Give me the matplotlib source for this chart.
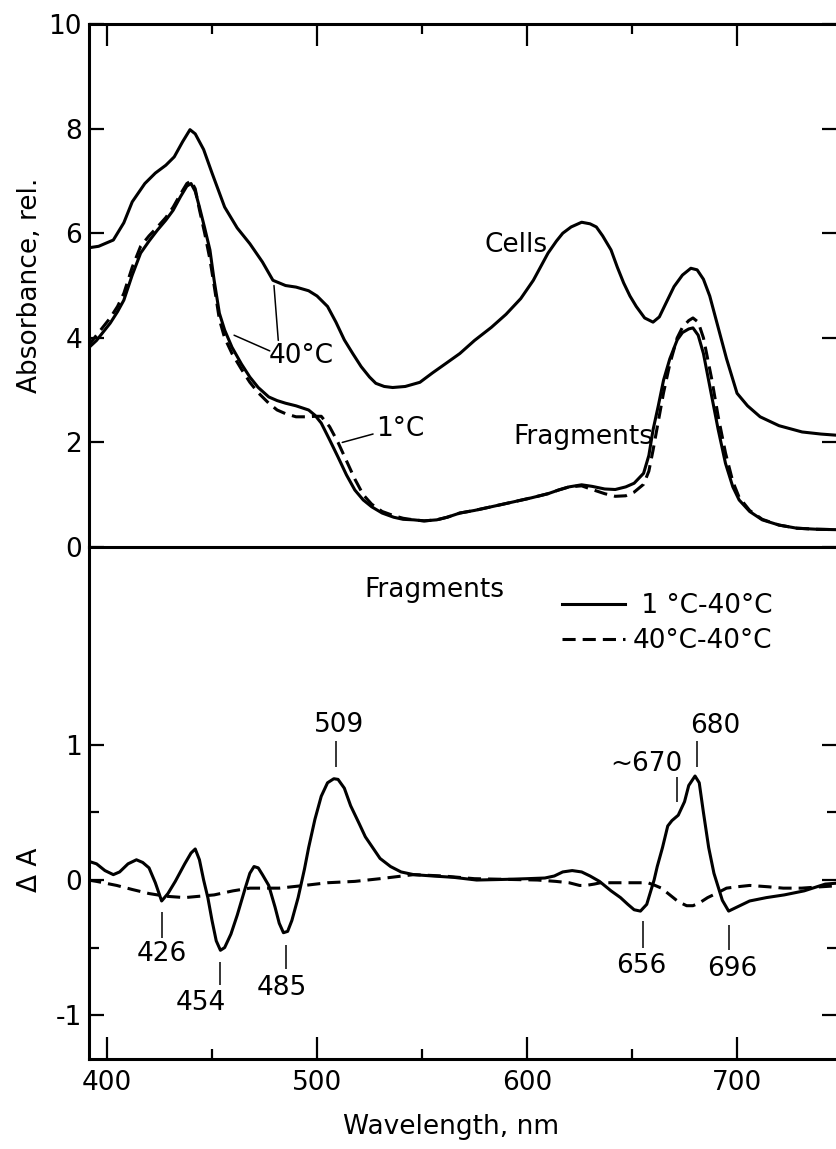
import matplotlib
matplotlib.use("Agg")
import matplotlib.pyplot as plt
from matplotlib.ticker import MultipleLocator, FixedLocator

plt.rcParams["font.family"] = ["DejaVu Sans"]
plt.rcParams["font.size"] = 19
plt.rcParams["axes.unicode_minus"] = False

# ---- top panel: absorbance spectra ----
cells_wl = [391, 396, 403, 408, 412, 418, 423, 428, 432, 436, 439.5, 442, 446, 450, 456, 462,
            468, 474, 479, 485, 490, 496, 500, 505, 509, 513, 517, 521, 525, 528, 532, 536,
            542, 549, 555, 561, 568, 575, 583, 590, 597, 603, 610, 614, 617, 621, 626, 630,
            633, 636, 640, 643, 646, 649, 652, 656, 660, 663, 666, 670, 674, 678, 681, 684,
            687, 691, 695, 700, 705, 711, 720, 731, 740, 750]
cells_abs = [5.72, 5.75, 5.87, 6.2, 6.6, 6.95, 7.15, 7.3, 7.46, 7.75, 7.98, 7.9, 7.6, 7.15, 6.5, 6.1,
             5.8, 5.45, 5.1, 5.0, 4.97, 4.9, 4.8, 4.6, 4.3, 3.96, 3.7, 3.45, 3.25, 3.13, 3.07, 3.05,
             3.07, 3.15, 3.33, 3.5, 3.7, 3.95, 4.2, 4.45, 4.75, 5.1, 5.62, 5.85, 6.0, 6.12, 6.21, 6.18,
             6.12, 5.95, 5.68, 5.35, 5.05, 4.8, 4.6, 4.38, 4.3, 4.4, 4.65, 4.98, 5.2, 5.33, 5.3, 5.12,
             4.8, 4.2, 3.6, 2.94, 2.7, 2.49, 2.32, 2.2, 2.16, 2.13]

frag_wl = [391, 395, 401.5, 405, 408, 412, 416, 420, 424, 428, 431.5, 435, 438, 440, 442, 444,
           446.5, 449, 451, 453.5, 456, 459.5, 464, 468, 472, 477, 481, 485, 490, 496, 499, 502,
           506, 510, 514, 518, 522, 526, 531, 536.5, 541, 546, 551, 557, 562, 568, 575, 583,
           592, 602, 610, 615, 620, 626, 631, 637, 642, 647, 651, 655.5, 658, 660, 662.5, 665,
           668, 671.5, 674, 677, 679, 681.5, 684, 688, 691, 694.5, 698, 701, 706, 712, 720,
           728.5, 738, 750]
frag_1c = [3.8, 3.95, 4.28, 4.5, 4.72, 5.2, 5.62, 5.85, 6.06, 6.25, 6.44, 6.7, 6.9, 6.95, 6.8, 6.5,
           6.1, 5.68, 5.1, 4.47, 4.15, 3.82, 3.5, 3.25, 3.05, 2.87, 2.8, 2.75, 2.7, 2.62, 2.52, 2.37,
           2.05, 1.72, 1.38, 1.09, 0.9, 0.77, 0.65, 0.57, 0.53, 0.52, 0.5, 0.52, 0.57, 0.65, 0.7, 0.77,
           0.85, 0.94, 1.02, 1.09, 1.15, 1.19, 1.16, 1.11, 1.1, 1.15, 1.22, 1.41, 1.75, 2.24, 2.7, 3.19,
           3.6, 3.96, 4.1, 4.17, 4.19, 4.05, 3.7, 2.87, 2.25, 1.6, 1.15, 0.9, 0.68, 0.52, 0.42,
           0.36, 0.34, 0.33]
frag_40c = [3.85, 4.05, 4.38, 4.6, 4.85, 5.35, 5.75, 5.95, 6.12, 6.3, 6.5, 6.75, 6.95, 7.0, 6.85, 6.45,
            6.0, 5.5, 5.0, 4.35, 4.0, 3.7, 3.4, 3.15, 2.95, 2.75, 2.62, 2.55, 2.49, 2.49, 2.5, 2.5,
            2.3, 2.0, 1.65, 1.3, 1.0, 0.82, 0.68, 0.6, 0.55, 0.52, 0.5, 0.52, 0.57, 0.65, 0.7, 0.77,
            0.85, 0.94, 1.02, 1.09, 1.15, 1.17, 1.1, 1.02, 0.97, 0.98, 1.05, 1.2, 1.45, 1.85, 2.4, 2.95,
            3.5, 4.0, 4.2, 4.33, 4.38, 4.3, 4.0, 3.2, 2.5, 1.8, 1.25, 0.95, 0.7, 0.53, 0.42,
            0.36, 0.34, 0.33]

# ---- bottom panel: difference spectra of fragments ----
d1_wl = [391, 395, 399, 403, 406, 410, 414, 417, 420, 423, 426, 429, 432.5, 437, 440, 442, 444,
         446, 448, 450, 452, 454, 456, 459, 462, 466, 468, 470, 472, 474, 477, 480, 482, 484,
         486, 488, 491, 494, 496, 499, 502, 505, 508, 510, 513, 516, 520, 523, 526.5, 530, 535,
         540, 546, 555, 565, 576, 590, 600, 608.5, 613, 617, 621.5, 626, 630, 634.5, 640, 644.5,
         648, 651, 654, 657, 660.5, 662, 664.5, 667, 669, 672, 675, 677, 680, 682, 684, 686.5,
         689, 691, 693, 696, 700, 706, 714, 722.5, 732, 742, 750]
d1_val = [0.14, 0.12, 0.07, 0.04, 0.06, 0.12, 0.15, 0.13, 0.09, -0.02, -0.155, -0.1, -0.01, 0.12, 0.2, 0.23, 0.15,
          0.0, -0.13, -0.3, -0.45, -0.52, -0.5, -0.4, -0.26, -0.05, 0.05, 0.1, 0.09, 0.04, -0.04, -0.2, -0.32, -0.39,
          -0.38, -0.3, -0.13, 0.08, 0.24, 0.45, 0.62, 0.72, 0.75, 0.745, 0.68, 0.55, 0.42, 0.32, 0.24, 0.16, 0.1,
          0.06, 0.04, 0.03, 0.02, 0.0, 0.005, 0.01, 0.015, 0.03, 0.06, 0.07, 0.06, 0.03, -0.01, -0.08, -0.13,
          -0.18, -0.22, -0.23, -0.18, 0.0, 0.1, 0.24, 0.4, 0.44, 0.48, 0.58, 0.7, 0.77, 0.72, 0.5, 0.24,
          0.05, -0.05, -0.15, -0.23, -0.2, -0.155, -0.13, -0.11, -0.08, -0.03, -0.02]

d40_wl = [391, 395, 404.6, 412, 420, 428, 437, 444, 451, 460, 468, 475, 482, 488, 494, 505, 518,
          530, 546, 560, 575, 590, 605, 613.7, 620, 625, 628, 632, 635, 645, 657.5, 661, 664, 668,
          672, 676, 679, 682, 686, 690, 695, 700, 706, 715, 722, 730.7, 740, 750]
d40_val = [0.0, -0.01, -0.04, -0.07, -0.1, -0.12, -0.13, -0.12, -0.11, -0.08, -0.06, -0.06, -0.06, -0.05, -0.04, -0.02, -0.01,
           0.01, 0.04, 0.03, 0.01, 0.005, 0.0, -0.01, -0.02, -0.04, -0.04, -0.03, -0.02, -0.02, -0.02, -0.04, -0.06, -0.11,
           -0.16, -0.19, -0.19, -0.17, -0.13, -0.1, -0.06, -0.05, -0.04, -0.05, -0.06, -0.06, -0.05, -0.04]

# peak labels of the difference spectrum
peak_labels = ["426", "454", "485", "509", "656", "~670", "680", "696"]
peak_wl = [426, 454, 485, 509, 655, 671.5, 681, 696]

fig = plt.figure(figsize=(8.37, 11.49), dpi=100)
ax1 = fig.add_axes([0.1063, 0.5239, 0.8937, 0.4552])
ax2 = fig.add_axes([0.1063, 0.0783, 0.8937, 0.4456])
ax2.patch.set_visible(False)

lw = 2.2
dash = (4.3, 2.3)

ax1.plot(cells_wl, cells_abs, color="black", lw=lw)
ax1.plot(frag_wl, frag_40c, color="black", lw=lw, ls="--", dashes=dash)
ax1.plot(frag_wl, frag_1c, color="black", lw=lw)

ax1.text(610, 5.77, "Cells", ha="right", va="center")
ax1.text(660, 2.1, "Fragments", ha="right", va="center")
ax1.annotate("40°C", xy=(479.5, 5.0), xytext=(477, 3.65), ha="left", va="center",
             arrowprops=dict(arrowstyle="-", lw=1.1, color="black", relpos=(0.15, 1.0),
                             shrinkA=0, shrinkB=0))
ax1.annotate("", xy=(460.5, 4.05), xytext=(477.5, 3.75),
             arrowprops=dict(arrowstyle="-", lw=1.1, color="black", shrinkA=0, shrinkB=0))
ax1.annotate("1°C", xy=(512, 2.0), xytext=(528, 2.25), ha="left", va="center",
             arrowprops=dict(arrowstyle="-", lw=1.1, color="black", relpos=(0.0, 0.35),
                             shrinkA=0, shrinkB=0))

l1, = ax2.plot(d1_wl, d1_val, color="black", lw=lw)
l2, = ax2.plot(d40_wl, d40_val, color="black", lw=lw, ls="--", dashes=dash)

ax2.text(555.7, 2.15, "Fragments", ha="center", va="center")
leg = ax2.legend([l1, l2], [" 1 °C-40°C", "40°C-40°C"], loc="upper left",
                 bbox_to_anchor=(0.632, 0.91), frameon=False, borderpad=0, borderaxespad=0,
                 handlelength=2.4, handletextpad=0.3, labelspacing=0.35, fontsize=19)

# leader ticks and positions of the peak labels
line_lo = [-0.43, -0.78, -0.66, 0.84, -0.50, 0.58, 0.84, -0.52]
line_hi = [-0.24, -0.61, -0.48, 1.03, -0.30, 0.76, 1.03, -0.33]
text_x = [426, 444.5, 483, 510.5, 654.5, 674, 689.4, 697.5]
text_y = [-0.55, -0.91, -0.80, 1.15, -0.64, 0.86, 1.14, -0.66]
text_ha = ["center", "center", "center", "center", "center", "right", "center", "center"]
for lab, wl, lo, hi, tx, ty, ha in zip(peak_labels, peak_wl, line_lo, line_hi, text_x, text_y, text_ha):
    ax2.vlines(wl, lo, hi, color="black", lw=1.1)
    ax2.text(tx, ty, lab, ha=ha, va="center")

# axes
ax1.set_xlim(391.4, 747.6)
ax2.set_xlim(391.4, 747.6)
ax1.set_ylim(0, 10)
ax2.set_ylim(-1.325, 2.465)

for ax in (ax1, ax2):
    ax.xaxis.set_major_locator(MultipleLocator(100))
    ax.xaxis.set_minor_locator(MultipleLocator(50))
    ax.spines["right"].set_visible(False)
    for s in ("left", "top", "bottom"):
        ax.spines[s].set_linewidth(2.2)
    ax.tick_params(which="both", direction="in", width=1.6, labelsize=19, left=True, right=True)
    ax.tick_params(axis="x", which="major", length=16, pad=8)
    ax.tick_params(axis="x", which="minor", length=7)
    ax.tick_params(axis="y", which="major", length=11, pad=5)
    ax.tick_params(axis="y", which="minor", length=7)

ax1.yaxis.set_major_locator(MultipleLocator(2))
ax1.tick_params(axis="x", which="both", top=True, bottom=False, labelbottom=False)
ax2.yaxis.set_major_locator(FixedLocator([-1, 0, 1]))
ax2.yaxis.set_minor_locator(FixedLocator([-0.5, 0.5]))
ax2.tick_params(axis="x", which="both", top=False, bottom=True)
ax2.spines["top"].set_visible(False)

ax1.set_ylabel("Absorbance, rel.", fontsize=19)
ax1.yaxis.set_label_coords(-0.0615, 0.5)
ax2.set_ylabel("Δ A", fontsize=19)
ax2.yaxis.set_label_coords(-0.0615, 0.369)
ax2.set_xlabel("Wavelength, nm", fontsize=19)
ax2.xaxis.set_label_coords(0.484, -0.107)

fig.savefig("out.png", dpi=100)
